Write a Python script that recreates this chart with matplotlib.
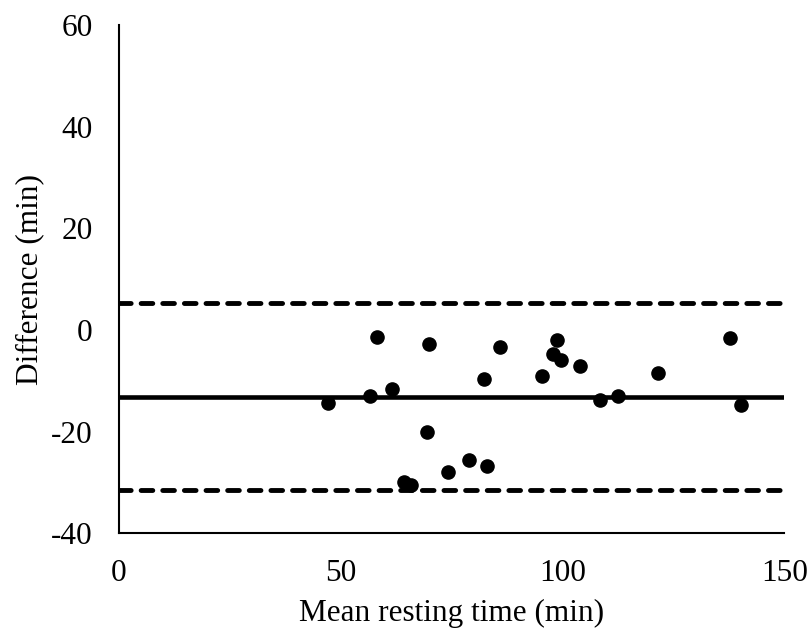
import numpy as np
import matplotlib.pyplot as plt

# Bland-Altman data
mean_time = [47.2, 56.7, 58.1, 61.5, 64.3, 65.8, 69.4, 69.9, 74.1, 79.0,
             82.4, 83.0, 86.0, 95.4, 97.9, 98.8, 99.6, 103.9, 108.5, 112.5,
             121.5, 137.8, 140.2]
difference = [-14.4, -12.9, -1.3, -11.6, -30.0, -30.4, -20.1, -2.8, -28.0, -25.6,
              -9.7, -26.7, -3.3, -9.05, -4.7, -2.0, -5.9, -7.0, -13.8, -12.9,
              -8.4, -1.5, -14.8]
bias = -13.1
upper_loa = 5.25
lower_loa = -31.5

plt.rcParams['font.family'] = ['Liberation Serif', 'DejaVu Serif']
plt.rcParams['axes.unicode_minus'] = False

fig = plt.figure(figsize=(8.11, 6.41), dpi=100)
ax = fig.add_axes([0.1467, 0.168, 0.8203, 0.793])

ax.scatter(mean_time, difference, s=90, color='black', zorder=3)
ax.axhline(bias, color='black', lw=3.3)
for loa in (upper_loa, lower_loa):
    ax.axhline(loa, color='black', lw=3.5, dashes=(2.4, 2.05), dash_capstyle='round')

ax.set_xlim(0, 150)
ax.set_ylim(-40, 60)
ax.set_xticks([0, 50, 100, 150])
ax.set_yticks([-40, -20, 0, 20, 40, 60])
ax.tick_params(length=0, labelsize=22.5)
ax.tick_params(axis='x', pad=18.5)
ax.tick_params(axis='y', pad=19)
ax.spines['top'].set_visible(False)
ax.spines['right'].set_visible(False)
ax.spines['left'].set_linewidth(1.5)
ax.spines['bottom'].set_linewidth(1.5)
ax.set_xlabel('Mean resting time (min)', fontsize=22.5, labelpad=8)
ax.set_ylabel('Difference (min)', fontsize=22.5, labelpad=5)

fig.savefig('out.png', dpi=100)
